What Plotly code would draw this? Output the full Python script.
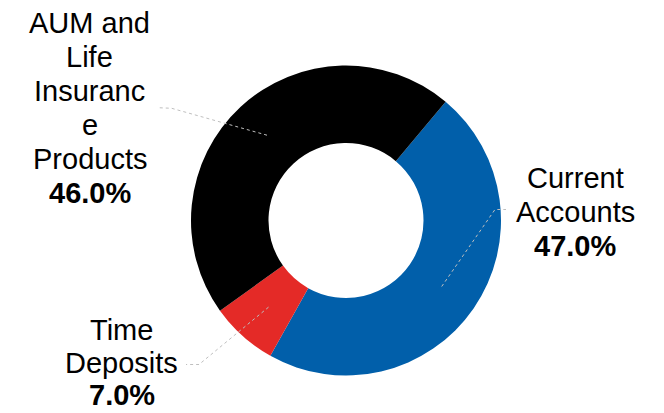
import math
import plotly.graph_objects as go

# ---- data ----
categories = ["Current Accounts", "Time Deposits", "AUM and Life Insurance Products"]
values = [47.0, 7.0, 46.0]
label_lines = [
    ["Current", "Accounts"],
    ["Time", "Deposits"],
    ["AUM and", "Life", "Insuranc", "e", "Products"],
]
colors = ["#015FAA", "#E42A27", "#000000"]

# ---- layout constants (pixels) ----
W, H = 664, 413
CX, CY, R = 346, 220.5, 155
HOLE = 0.5
ROT = 40
FONT = "Liberation Sans, Arial, sans-serif"
FS = 29
STEP = 34
# per label: text centre x, first line centre y, line step, elbow point, end point
label_pos = [
    dict(x=575, y=178, step=STEP, elbow=(495, 209.5), end=(506, 209.5)),
    dict(x=121.5, y=330, step=32.5, elbow=(199, 364.5), end=(186, 364.5)),
    dict(x=89.5, y=23, step=STEP, elbow=(171.7, 108.3), end=(158, 107.7)),
]


def px(x):
    return x / W


def py(y):
    return 1 - y / H


fig = go.Figure(
    go.Pie(
        labels=categories,
        values=values,
        hole=HOLE,
        rotation=ROT,
        direction="clockwise",
        sort=False,
        marker=dict(colors=colors, line=dict(width=0)),
        textinfo="none",
        hoverinfo="label+percent",
        showlegend=False,
        domain=dict(x=[px(CX - R), px(CX + R)], y=[py(CY + R), py(CY - R)]),
    )
)

total = sum(values)
cum = 0.0
shapes = []
annotations = []
for v, lines, pos in zip(values, label_lines, label_pos):
    mid = math.radians(ROT + 360.0 * (cum + v / 2) / total)
    cum += v
    rr = R * (1 + HOLE) / 2
    x0 = CX + rr * math.sin(mid)
    y0 = CY - rr * math.cos(mid)
    ex, ey = pos["elbow"]
    fx, fy = pos["end"]
    shapes.append(
        dict(
            type="path",
            xref="paper",
            yref="paper",
            path=f"M {px(x0)},{py(y0)} L {px(ex)},{py(ey)} L {px(fx)},{py(fy)}",
            line=dict(color="#BFBFBF", width=1, dash="dot"),
        )
    )
    texts = lines + [f"<b>{v:.1f}%</b>"]
    for i, t in enumerate(texts):
        annotations.append(
            dict(
                x=px(pos["x"]),
                y=py(pos["y"] + i * pos["step"]),
                xref="paper",
                yref="paper",
                xanchor="center",
                yanchor="middle",
                borderpad=0,
                text=t,
                showarrow=False,
                font=dict(family=FONT, size=FS, color="#000000"),
            )
        )

fig.update_layout(
    width=W,
    height=H,
    margin=dict(l=0, r=0, t=0, b=0),
    paper_bgcolor="white",
    plot_bgcolor="white",
    shapes=shapes,
    annotations=annotations,
)

fig.write_html("out.html")
